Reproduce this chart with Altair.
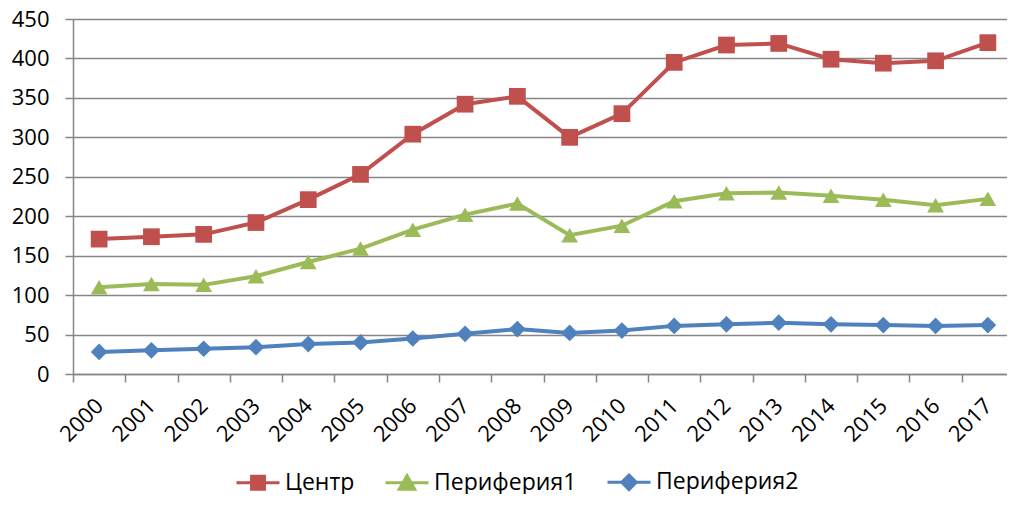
import altair as alt
import pandas as pd

years = [str(y) for y in range(2000, 2018)]
centr = [171, 174, 177, 192, 221, 253, 304, 342, 352, 300, 330, 395, 417, 419, 399, 394, 397, 420]
per1 = [110, 114, 113, 124, 142, 159, 183, 202, 216, 176, 188, 219, 229, 230, 226, 221, 214, 222]
per2 = [28, 30, 32, 34, 38, 40, 45, 51, 57, 52, 55, 61, 63, 65, 63, 62, 61, 62]
series = ["Центр", "Периферия1", "Периферия2"]
colors = ["#C0504D", "#9BBB59", "#4F81BD"]
shapes = ["square", "triangle-up", "diamond"]
y_ticks = list(range(0, 451, 50))

rows = []
for name, vals in zip(series, [centr, per1, per2]):
    for yr, v in zip(years, vals):
        rows.append({"year": yr, "series": name, "value": v})
df = pd.DataFrame(rows)

FONT = "Open Sans"
GRID = "#868686"

# legend symbols: a short line with the marker in its middle
legend_paths = [
    "M-1,0H1M-0.3,-0.3H0.3V0.3H-0.3Z",
    "M-1,0H1M0,-0.34L0.36,0.3H-0.36Z",
    "M-1,0H1M0,-0.34L0.34,0L0,0.34L-0.34,0Z",
]

x = alt.X(
    "year:O",
    sort=years,
    scale=alt.Scale(type="band", paddingInner=0, paddingOuter=0),
    axis=alt.Axis(
        title=None, tickBand="extent", labelAngle=315, labelAlign="right",
        labelBaseline="middle", labelPadding=20, tickSize=8, tickColor=GRID,
        tickWidth=1.5, domainColor=GRID, domainWidth=1.5, labelFont=FONT,
        labelFontSize=22, labelColor="black", grid=False,
    ),
)
y = alt.Y(
    "value:Q",
    scale=alt.Scale(domain=[0, 450], nice=False, zero=True),
    axis=alt.Axis(
        title=None, values=y_ticks, tickSize=8, tickColor=GRID, tickWidth=1.5,
        domainColor=GRID, domainWidth=1.5, gridColor=GRID, gridWidth=1.5,
        labelFont=FONT, labelFontSize=22, labelColor="black", labelPadding=16,
    ),
)
legend = alt.Legend(
    title=None, orient="none", legendX=162, legendY=440, direction="horizontal",
    symbolSize=1849, symbolStrokeWidth=3, symbolOpacity=1,
    labelFont=FONT, labelFontSize=23, labelColor="black", labelOffset=4,
    columnPadding=24, padding=0,
)
color = alt.Color("series:N", sort=series, scale=alt.Scale(domain=series, range=colors), legend=legend)

base = alt.Chart(df)
lines = base.mark_line(strokeWidth=4).encode(x=x, y=y, color=color)
point_layers = [
    base.transform_filter(alt.datum.series == s)
    .mark_point(filled=True, size=280, opacity=1, shape=sh)
    .encode(x=x, y=y, color=color)
    for s, sh in zip(series, shapes)
]
# legend-only layer (no rows survive the filter)
ghost = (
    base.transform_filter("datum.value < 0")
    .mark_point(filled=False, size=1849, strokeWidth=3)
    .encode(
        x=x, y=y, color=color,
        fill=alt.Fill("series:N", sort=series, scale=alt.Scale(domain=series, range=colors), legend=legend),
        shape=alt.Shape("series:N", sort=series, scale=alt.Scale(domain=series, range=legend_paths), legend=legend),
    )
)

chart = (
    alt.layer(lines, *point_layers, ghost)
    .properties(
        width=941, height=355,
        padding={"left": 65, "top": 11, "right": -7, "bottom": 120},
        autosize=alt.AutoSizeParams(type="none"),
    )
    .configure_view(stroke=None)
)

chart.save("out.html", embed_options={"renderer": "svg", "actions": False})
